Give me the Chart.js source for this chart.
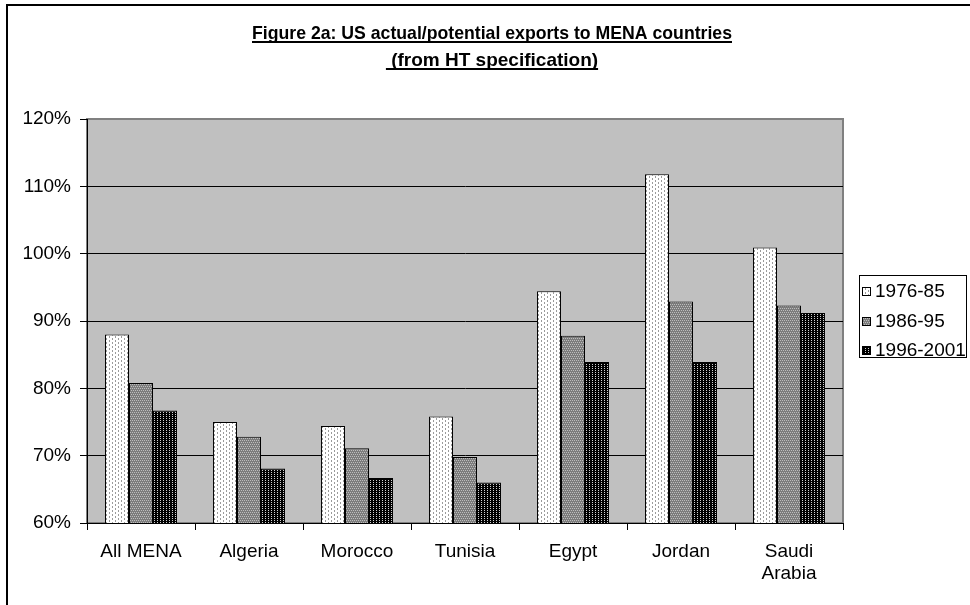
<!DOCTYPE html>
<html>
<head>
<meta charset="utf-8">
<script src="https://cdn.jsdelivr.net/npm/chart.js@4/dist/chart.umd.min.js"></script>
<style>
    html, body { margin: 0; padding: 0; background: #fff; }
    #grafico { display: block; }
</style>
</head>
<body>
<canvas id="grafico" width="970" height="605"></canvas>
<script>
// Dados do gráfico
const paises = ['All MENA', 'Algeria', 'Morocco', 'Tunisia', 'Egypt', 'Jordan', ['Saudi', 'Arabia']];
const periodos = ['1976-85', '1986-95', '1996-2001'];
const valores7685 = [88.0, 75.0, 74.4, 75.8, 94.4, 111.8, 100.9];
const valores8695 = [80.8, 72.8, 71.1, 69.8, 87.8, 92.9, 92.3];
const valores9601 = [76.7, 68.1, 66.7, 66.0, 83.9, 83.9, 91.2];
const ticksY = [60, 70, 80, 90, 100, 110, 120];

const tituloLinhas = ['Figure 2a: US actual/potential exports to MENA countries', ' (from HT specification)'];
const fonte = '"Liberation Sans", Arial, sans-serif';

// Padrões de preenchimento (estilo Excel)
function criarPadrao(w, h, fundo, cor, pontos) {
    const c = document.createElement('canvas');
    c.width = w;
    c.height = h;
    const g = c.getContext('2d');
    g.fillStyle = fundo;
    g.fillRect(0, 0, w, h);
    g.fillStyle = cor;
    pontos.forEach(p => g.fillRect(p[0], p[1], 1, 1));
    return document.getElementById('grafico').getContext('2d').createPattern(c, 'repeat');
}

const padraoClaro = criarPadrao(6, 4, '#ffffff', '#9a9a9a', [[1, 0], [1, 1], [4, 2], [4, 3]]);
const padraoMedio = criarPadrao(4, 4, '#7c7c7c', '#bdbdbd', [[0, 0], [2, 0], [1, 2], [3, 2]]);
const padraoEscuro = criarPadrao(3, 2, '#000000', '#d0d0d0', [[1, 0]]);
const padroes = [padraoClaro, padraoMedio, padraoEscuro];

// Moldura, fundo cinza da área do gráfico e título
const fundoPlugin = {
    id: 'fundo',
    beforeDraw(chart) {
        const ctx = chart.ctx;
        const a = chart.chartArea;
        ctx.save();
        ctx.fillStyle = '#fff';
        ctx.fillRect(0, 0, chart.width, chart.height);

        ctx.strokeStyle = '#000';
        ctx.lineWidth = 2;
        ctx.beginPath();
        ctx.moveTo(7, chart.height);
        ctx.lineTo(7, 5);
        ctx.lineTo(chart.width, 5);
        ctx.stroke();

        ctx.fillStyle = '#c0c0c0';
        ctx.fillRect(a.left, a.top, a.right - a.left, a.bottom - a.top);
        ctx.strokeStyle = '#808080';
        ctx.lineWidth = 2;
        ctx.strokeRect(a.left, a.top, a.right - a.left, a.bottom - a.top);

        // título sublinhado (a primeira linha fica um pouco mais estreita no original)
        ctx.fillStyle = '#000';
        ctx.font = 'bold 19px ' + fonte;
        ctx.textAlign = 'left';
        ctx.textBaseline = 'alphabetic';
        const centro = 492;
        const bases = [39, 66];
        const larguraMax = [480, 999];
        tituloLinhas.forEach((t, i) => {
            const w = Math.min(ctx.measureText(t).width, larguraMax[i]);
            const x = centro - w / 2;
            ctx.fillText(t, x, bases[i], w);
            ctx.fillRect(x, bases[i] + 2, w, 2);
        });
        ctx.restore();
    }
};

// Legenda com moldura
const legendaPlugin = {
    id: 'legendaExcel',
    afterDraw(chart) {
        const ctx = chart.ctx;
        ctx.save();
        ctx.strokeStyle = '#000';
        ctx.lineWidth = 1;
        ctx.strokeRect(859.5, 275.5, 107, 82);
        ctx.font = '19px ' + fonte;
        ctx.textBaseline = 'middle';
        ctx.textAlign = 'left';
        const ys = [291, 321, 350];
        chart.data.datasets.forEach((ds, i) => {
            ctx.fillStyle = ds.backgroundColor;
            ctx.fillRect(862, ys[i] - 4, 9, 9);
            ctx.strokeRect(862.5, ys[i] - 3.5, 8, 8);
            ctx.fillStyle = '#000';
            ctx.fillText(ds.label, 875, ys[i] + 1);
        });
        ctx.restore();
    }
};

Chart.defaults.font.family = fonte;
Chart.defaults.font.size = 19;
Chart.defaults.color = '#000';

const series = [valores7685, valores8695, valores9601];

new Chart(document.getElementById('grafico'), {
    type: 'bar',
    data: {
        labels: paises,
        datasets: periodos.map((p, i) => ({
            label: p,
            data: series[i],
            backgroundColor: padroes[i],
            borderColor: '#000',
            borderWidth: 1,
            barPercentage: 1,
            categoryPercentage: 0.667
        }))
    },
    options: {
        responsive: false,
        animation: false,
        devicePixelRatio: 1,
        layout: {
            padding: { left: 0, top: 119, right: 127, bottom: 0 }
        },
        plugins: {
            legend: { display: false },
            title: { display: false },
            tooltip: { enabled: false }
        },
        scales: {
            x: {
                offset: true,
                grid: {
                    offset: true,
                    drawOnChartArea: false,
                    drawTicks: true,
                    tickLength: 7,
                    color: '#000'
                },
                border: { display: true, color: '#000', width: 1 },
                ticks: {
                    autoSkip: false,
                    maxRotation: 0,
                    padding: 10,
                    font: { size: 19, lineHeight: 1.2 }
                },
                afterFit(scale) {
                    scale.height = 82;
                }
            },
            y: {
                min: 60,
                max: 120,
                afterBuildTicks(scale) {
                    scale.ticks = ticksY.map(v => ({ value: v }));
                },
                grid: {
                    drawTicks: true,
                    tickLength: 7,
                    tickColor: '#000',
                    color: ctx => (ctx.tick && ctx.tick.value === 120 ? '#808080' : '#000'),
                    lineWidth: 1
                },
                border: { display: true, color: '#000', width: 1 },
                ticks: {
                    padding: 9,
                    font: { size: 19 },
                    callback: v => v + '%'
                },
                afterFit(scale) {
                    scale.width = 87;
                }
            }
        }
    },
    plugins: [fundoPlugin, legendaPlugin]
});
</script>
</body>
</html>
